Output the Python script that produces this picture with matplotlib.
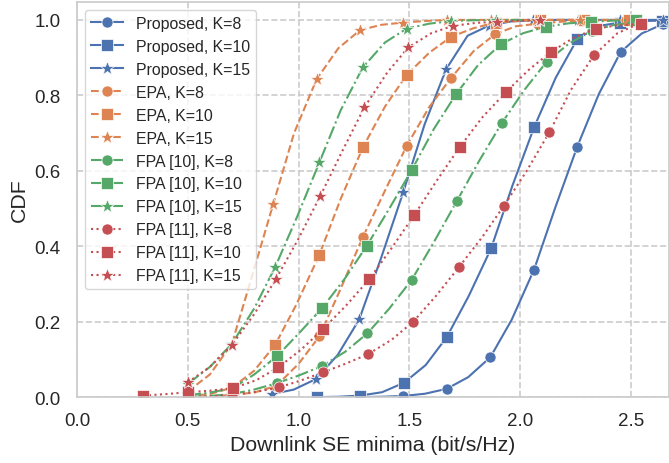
import matplotlib
matplotlib.use("Agg")
import matplotlib.pyplot as plt

# colours (seaborn "deep")
BLUE = "#4C72B0"
ORANGE = "#DD8452"
GREEN = "#55A868"
RED = "#C44E52"

# curves; every other point (starting at the first)
# carries a marker, the points in between follow the drawn line
prop_k8_x = [1.08, 1.18, 1.277, 1.375, 1.473, 1.571, 1.669, 1.766, 1.866, 1.962,
             2.063, 2.159, 2.258, 2.355, 2.454, 2.549, 2.646]
prop_k8_y = [0.0, 0.0, 0.0, 0.001, 0.003, 0.009, 0.022, 0.053, 0.106, 0.205,
             0.338, 0.503, 0.664, 0.803, 0.915, 0.964, 0.989]
prop_k10_x = [1.082, 1.18, 1.278, 1.377, 1.476, 1.574, 1.669, 1.769, 1.869, 1.965,
              2.063, 2.161, 2.258, 2.356, 2.451, 2.546, 2.642]
prop_k10_y = [0.0, 0.001, 0.004, 0.013, 0.038, 0.085, 0.159, 0.269, 0.394, 0.56,
              0.715, 0.847, 0.949, 0.984, 0.993, 0.997, 0.998]
prop_k15_x = [0.879, 0.979, 1.079, 1.177, 1.274, 1.374, 1.473, 1.569, 1.666, 1.763,
              1.86, 1.96, 2.06, 2.16, 2.26, 2.355, 2.45, 2.55, 2.645]
prop_k15_y = [0.008, 0.02, 0.048, 0.112, 0.206, 0.371, 0.544, 0.723, 0.869, 0.958,
              0.985, 0.996, 0.999, 1.0, 1.0, 1.0, 1.0, 1.0, 1.0]

epa_k8_x = [0.50, 0.60, 0.70, 0.80, 0.90, 1.0, 1.094, 1.19, 1.29, 1.39, 1.488,
            1.59, 1.687, 1.79, 1.887, 1.98, 2.08, 2.18, 2.28, 2.38, 2.48]
epa_k8_y = [0.0, 0.002, 0.006, 0.012, 0.03, 0.088, 0.161, 0.287, 0.424, 0.547, 0.666,
            0.769, 0.845, 0.917, 0.962, 0.983, 0.99, 0.995, 0.998, 0.999, 1.0]
epa_k10_x = [0.50, 0.60, 0.70, 0.80, 0.894, 0.99, 1.094, 1.19, 1.292, 1.39, 1.488,
             1.59, 1.688, 1.79, 1.89, 1.99, 2.09, 2.19, 2.29, 2.39, 2.49]
epa_k10_y = [0.003, 0.008, 0.025, 0.07, 0.138, 0.245, 0.377, 0.525, 0.664, 0.77, 0.854,
             0.913, 0.955, 0.978, 0.993, 0.997, 1.0, 1.0, 1.0, 1.0, 1.0]
epa_k15_x = [0.50, 0.60, 0.699, 0.79, 0.886, 0.98, 1.082, 1.18, 1.278, 1.375, 1.473,
             1.57, 1.67, 1.77, 1.87, 1.97, 2.07, 2.17, 2.27]
epa_k15_y = [0.015, 0.06, 0.141, 0.32, 0.512, 0.70, 0.843, 0.925, 0.973, 0.987, 0.993,
             0.997, 1.0, 1.0, 1.0, 1.0, 1.0, 1.0, 1.0]

fpa10_k8_x = [0.50, 0.60, 0.70, 0.80, 0.902, 1.0, 1.105, 1.21, 1.311, 1.41, 1.511,
              1.61, 1.714, 1.815, 1.917, 2.02, 2.12, 2.22, 2.323, 2.42, 2.526]
fpa10_k8_y = [0.0, 0.003, 0.008, 0.02, 0.037, 0.057, 0.082, 0.12, 0.169, 0.235, 0.311,
              0.41, 0.519, 0.626, 0.726, 0.815, 0.889, 0.937, 0.971, 0.986, 0.995]
fpa10_k10_x = [0.50, 0.60, 0.703, 0.80, 0.902, 1.0, 1.105, 1.21, 1.308, 1.41, 1.511,
               1.61, 1.711, 1.81, 1.914, 2.015, 2.117, 2.22, 2.32, 2.42, 2.523]
fpa10_k10_y = [0.005, 0.012, 0.024, 0.06, 0.108, 0.168, 0.235, 0.315, 0.401, 0.50, 0.602,
               0.71, 0.803, 0.88, 0.936, 0.965, 0.982, 0.991, 0.995, 0.998, 1.0]
fpa10_k15_x = [0.50, 0.60, 0.699, 0.80, 0.894, 0.995, 1.094, 1.19, 1.29, 1.39, 1.488,
               1.59, 1.69, 1.79, 1.89, 1.99, 2.09]
fpa10_k15_y = [0.035, 0.08, 0.141, 0.235, 0.344, 0.48, 0.622, 0.76, 0.874, 0.94, 0.977,
               0.99, 0.997, 0.999, 1.0, 1.0, 1.0]

fpa11_k8_x = [0.50, 0.60, 0.70, 0.81, 0.913, 1.01, 1.112, 1.21, 1.315, 1.42, 1.518,
              1.62, 1.726, 1.83, 1.927, 2.03, 2.132, 2.23, 2.333, 2.44, 2.541]
fpa11_k8_y = [0.0, 0.002, 0.006, 0.014, 0.026, 0.044, 0.066, 0.088, 0.114, 0.152, 0.2,
              0.268, 0.346, 0.425, 0.507, 0.60, 0.702, 0.815, 0.906, 0.965, 0.991]
fpa11_k10_x = [0.30, 0.40, 0.503, 0.60, 0.706, 0.81, 0.909, 1.01, 1.112, 1.215, 1.32,
               1.42, 1.523, 1.625, 1.729, 1.83, 1.935, 2.04, 2.139, 2.24, 2.343, 2.445,
               2.546]
fpa11_k10_y = [0.004, 0.008, 0.013, 0.017, 0.024, 0.045, 0.079, 0.125, 0.181, 0.243,
               0.313, 0.395, 0.483, 0.575, 0.664, 0.742, 0.808, 0.868, 0.915, 0.952,
               0.977, 0.986, 0.989]
fpa11_k15_x = [0.50, 0.60, 0.699, 0.80, 0.898, 1.0, 1.097, 1.20, 1.297, 1.40, 1.495,
               1.60, 1.696, 1.80, 1.894, 1.99, 2.09]
fpa11_k15_y = [0.039, 0.08, 0.138, 0.22, 0.313, 0.42, 0.532, 0.655, 0.768, 0.86, 0.927,
               0.965, 0.984, 0.992, 0.995, 0.998, 1.0]

x_ticks = [0.0, 0.5, 1.0, 1.5, 2.0, 2.5]
y_ticks = [0.0, 0.2, 0.4, 0.6, 0.8, 1.0]

plt.rcParams["font.family"] = ["Liberation Sans", "DejaVu Sans"]
plt.rcParams["text.color"] = "#262626"

series = [
    (prop_k8_x, prop_k8_y, BLUE, "-", "o", "Proposed, K=8"),
    (prop_k10_x, prop_k10_y, BLUE, "-", "s", "Proposed, K=10"),
    (prop_k15_x, prop_k15_y, BLUE, "-", "*", "Proposed, K=15"),
    (epa_k8_x, epa_k8_y, ORANGE, "--", "o", "EPA, K=8"),
    (epa_k10_x, epa_k10_y, ORANGE, "--", "s", "EPA, K=10"),
    (epa_k15_x, epa_k15_y, ORANGE, "--", "*", "EPA, K=15"),
    (fpa10_k8_x, fpa10_k8_y, GREEN, "-.", "o", "FPA [10], K=8"),
    (fpa10_k10_x, fpa10_k10_y, GREEN, "-.", "s", "FPA [10], K=10"),
    (fpa10_k15_x, fpa10_k15_y, GREEN, "-.", "*", "FPA [10], K=15"),
    (fpa11_k8_x, fpa11_k8_y, RED, ":", "o", "FPA [11], K=8"),
    (fpa11_k10_x, fpa11_k10_y, RED, ":", "s", "FPA [11], K=10"),
    (fpa11_k15_x, fpa11_k15_y, RED, ":", "*", "FPA [11], K=15"),
]

fig = plt.figure(figsize=(6.69, 4.64), dpi=100)
ax = fig.add_axes([0.115, 0.142, 0.885, 0.852])

for xs, ys, color, ls, marker, label in series:
    ms = 10 if marker == "*" else 8
    ax.plot(xs, ys, color=color, linestyle=ls, linewidth=1.5, marker=marker,
            markevery=2, markersize=ms, markeredgecolor="white",
            markeredgewidth=0.5, label=label)

ax.set_xlim(0, 2.672)
ax.set_ylim(0, 1.048)
ax.set_xticks(x_ticks)
ax.set_yticks(y_ticks)
ax.set_xticklabels(["{:.1f}".format(v) for v in x_ticks])
ax.set_yticklabels(["{:.1f}".format(v) for v in y_ticks])
ax.tick_params(axis="both", length=0, labelsize=13.5, colors="#262626")
ax.tick_params(axis="x", pad=11)
ax.tick_params(axis="y", pad=12)

ax.grid(True, linestyle="--", color="#cccccc", linewidth=1.2)
ax.set_axisbelow(True)
for spine in ax.spines.values():
    spine.set_color("#cccccc")
    spine.set_linewidth(1.25)

ax.set_xlabel("Downlink SE minima (bit/s/Hz)", fontsize=15.3, color="#262626")
ax.set_ylabel("CDF", fontsize=15.3, color="#262626")

leg = ax.legend(loc="upper left", fontsize=11.4, frameon=True, fancybox=True,
                edgecolor="#cccccc", framealpha=0.8)

plt.savefig("out.png", dpi=100)
